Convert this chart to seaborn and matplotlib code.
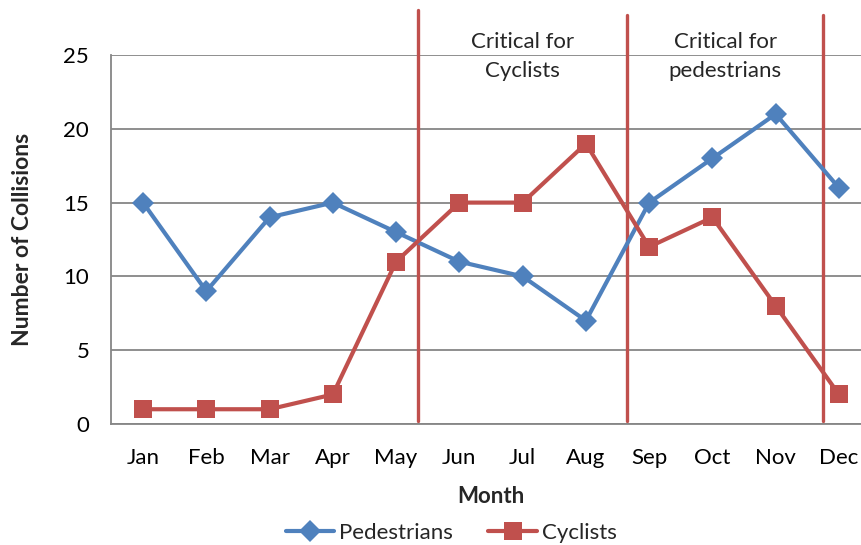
import numpy as np
import pandas as pd
import matplotlib
matplotlib.use("Agg")
import matplotlib.pyplot as plt
import seaborn as sns
from matplotlib.lines import Line2D

months = ["Jan", "Feb", "Mar", "Apr", "May", "Jun", "Jul", "Aug", "Sep", "Oct", "Nov", "Dec"]
pedestrians = [15, 9, 14, 15, 13, 11, 10, 7, 15, 18, 21, 16]
cyclists = [1, 1, 1, 2, 11, 15, 15, 19, 12, 14, 8, 2]
series_names = ["Pedestrians", "Cyclists"]
period_bounds = [4.35, 7.65, 10.75]
period_labels = ["Critical for\nCyclists", "Critical for\npedestrians"]

sns.set_style("white")
plt.rcParams["font.family"] = ["Lato", "DejaVu Sans"]

df = pd.DataFrame({
    "pos": list(range(len(months))) * 2,
    "value": pedestrians + cyclists,
    "series": [series_names[0]] * len(months) + [series_names[1]] * len(months),
})

blue = "#4F81BD"
red = "#C0504D"
grid = "#868686"
FS = 16
LW = 3.0
DSZ = 11.0
SSZ = 13.0

fig = plt.figure(figsize=(8.62, 5.45), dpi=100)
ax = fig.add_axes([111.4 / 862, 121 / 545, 759.2 / 862, 369 / 545])

sns.lineplot(data=df, x="pos", y="value", hue="series", style="series",
             palette={series_names[0]: blue, series_names[1]: red},
             markers={series_names[0]: "D", series_names[1]: "s"},
             dashes=False, sort=False, linewidth=LW, markersize=10,
             markeredgewidth=0, ax=ax, legend=False)
for line in ax.get_lines():
    if line.get_marker() == "s":
        line.set_markersize(SSZ)
    elif line.get_marker() == "D":
        line.set_markersize(DSZ)

ax.set_xlim(-0.5, 11.5)
ax.set_ylim(0, 25)
ax.set_yticks([0, 5, 10, 15, 20, 25])
ax.set_xticks(range(len(months)))
ax.set_xticklabels(months)
ax.yaxis.grid(True, color=grid, linewidth=1.3)
ax.xaxis.grid(False)
ax.tick_params(axis="both", length=0, labelsize=FS, colors="black")
ax.tick_params(axis="y", pad=16)
ax.tick_params(axis="x", pad=17)
for s in ["top", "right"]:
    ax.spines[s].set_visible(False)
for s in ["left", "bottom"]:
    ax.spines[s].set_color(grid)
    ax.spines[s].set_linewidth(1.3)
ax.set_axisbelow(True)

ax.set_xlabel("Month", fontsize=FS, fontweight="bold", labelpad=13)
ax.set_ylabel("Number of Collisions", fontsize=FS + 0.5, fontweight="bold", labelpad=22)

tops = [28.05, 27.7, 27.7]
for xb, yt in zip(period_bounds, tops):
    ax.plot([xb, xb], [0.2, yt], color=red, linewidth=2.4, clip_on=False, zorder=1)

for i, lab in enumerate(period_labels):
    xc = (period_bounds[i] + period_bounds[i + 1]) / 2
    ax.text(xc, 24.9, lab, ha="center", va="center", fontsize=FS,
            linespacing=1.55, clip_on=False)

handles = [
    Line2D([], [], color=blue, marker="D", markersize=DSZ, linewidth=LW, markeredgewidth=0),
    Line2D([], [], color=red, marker="s", markersize=SSZ, linewidth=LW, markeredgewidth=0),
]
fig.legend(handles, series_names, loc="center", bbox_to_anchor=(451 / 862, 12 / 545),
           ncol=2, frameon=False, fontsize=FS, handlelength=2.2, columnspacing=1.6,
           handletextpad=0.2)

fig.savefig("out.png", dpi=100)
